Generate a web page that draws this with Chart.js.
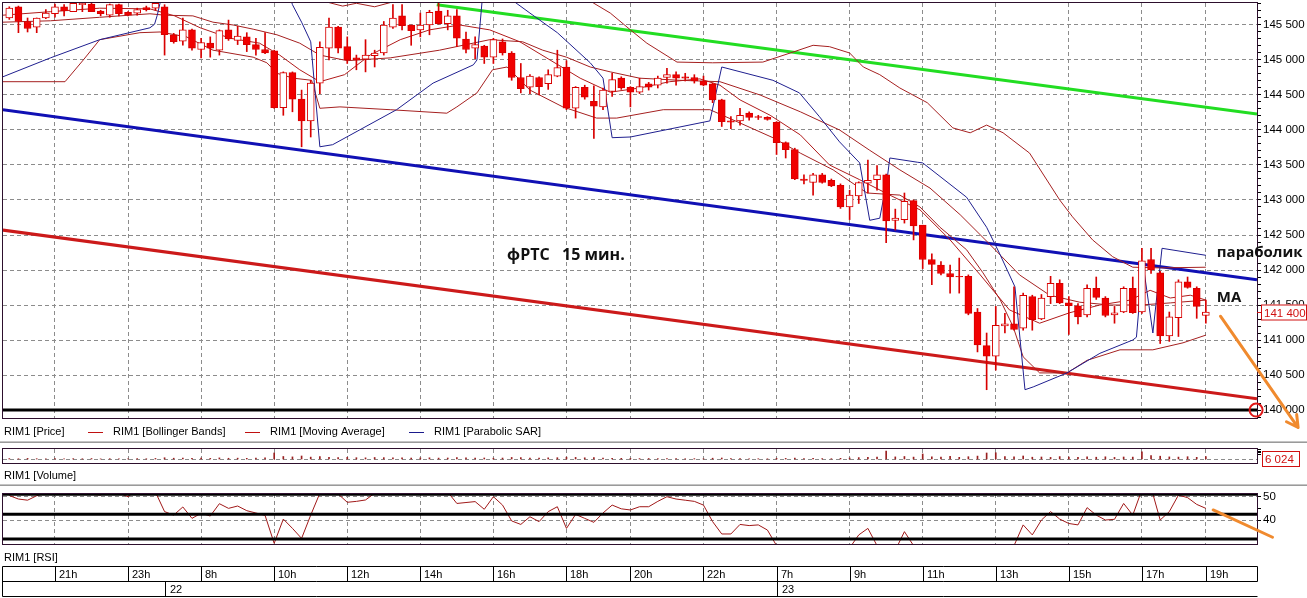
<!DOCTYPE html>
<html>
<head>
<meta charset="utf-8">
<script src="https://cdn.jsdelivr.net/npm/chart.js@4.4.1/dist/chart.umd.min.js"></script>
<style>
  html, body { margin: 0; padding: 0; background: #fff; width: 1307px; height: 598px; overflow: hidden; }
  canvas { position: absolute; left: 0; }
  .sep { position: absolute; left: 0; width: 1307px; height: 1px; background: #c4c4c4; border-bottom: 1px solid #9a9a9a; }
</style>
</head>
<body>
<canvas id="priceChart" width="1307" height="441" style="top:0"></canvas>
<div class="sep" style="top:441px"></div>
<canvas id="volumeChart" width="1307" height="41" style="top:443px"></canvas>
<div class="sep" style="top:484px"></div>
<canvas id="rsiChart" width="1307" height="112" style="top:486px"></canvas>
<script>
// RIM1, 15 min bars, index 0 = first bar on screen (21st, evening)
const candleOpen = [
  145600,145760,145550,145470,145600,145660,145760,145690,145790,145800,145700,145640,145790,145680,145670,145750,145740,
  145760,145360,145270,145430,145150,145240,145140,145430,145280,145330,145220,145150,
  145130,144320,144820,144440,144130,144670,145170,145470,145190,145030,145010,145060,145100,145470,145630,145500,
  145430,145500,145700,145520,145630,145300,145170,145200,145040,145260,145100,144750,144610,144750,144660,144770,
  144900,144310,144610,144410,144330,144550,144740,144610,144540,144660,144640,144750,144790,144760,144750,144700,
  144660,144430,144130,144130,144240,144190,144180,
  144110,143820,143720,143300,143250,143360,143280,143210,142900,143060,143240,143290,143360,142710,142720,142990,
  142640,142150,142070,141950,141910,141910,141400,140920,140770,141200,141230,141170,141620,141300,141620,141810,
  141530,141490,141360,141740,141600,141360,141400,141740,141400,142150,141960,141060,141320,141830,141740,141350
];
const candleHigh = [
  145760,145770,145600,145600,145720,145800,145790,145810,145820,145810,145710,145800,145800,145690,145740,145770,145830,
  145790,145380,145600,145440,145310,145330,145430,145570,145480,145390,145310,145390,
  145140,144830,144830,144570,144710,145260,145600,145480,145330,145070,145290,145140,145550,145790,145790,145500,
  145670,145710,145820,145710,145720,145400,145330,145210,145310,145300,145120,144950,144790,144760,144860,145140,
  144990,144620,144640,144630,144600,144810,144760,144620,144740,144680,144770,144880,144830,144810,144790,144770,
  144670,144440,144190,144310,144260,144210,144190,
  144120,143830,143740,143360,143380,143380,143300,143230,143140,143260,143570,143490,143370,142870,143100,143000,
  142640,142230,142120,142070,142170,141930,141450,141100,141480,141380,141760,141670,141640,141650,141910,141860,
  141620,141520,141790,141900,141620,141480,141760,141900,142310,142310,141980,141400,141860,141900,141760,141570
];
const candleLow = [
  145580,145390,145400,145390,145590,145610,145630,145690,145690,145690,145630,145610,145630,145630,145640,145700,145710,
  145070,145240,145210,145140,145030,145040,145070,145280,145220,145120,145070,145090,
  144310,144210,144260,143760,143900,144520,145000,145100,144950,144860,144830,144900,145070,145450,145430,145210,
  145330,145360,145510,145430,145190,145100,145020,144950,144950,145070,144710,144530,144520,144500,144580,144760,
  144290,144170,144440,143880,144290,144480,144580,144330,144520,144570,144600,144670,144640,144700,144670,144630,
  144390,144050,144020,144070,144140,144150,144140,
  143650,143600,143290,143230,143070,143240,143190,142880,142720,142950,143100,143140,142390,142570,142670,142430,
  142020,141790,141930,141670,141670,141360,140830,140290,140570,141100,141140,141140,141140,141290,141520,141520,
  141080,141230,141330,141580,141330,141240,141390,141380,141380,141950,140950,140980,141050,141740,141310,141240
];
const candleClose = [
  145740,145550,145450,145600,145670,145760,145700,145810,145810,145690,145660,145790,145660,145640,145720,145720,145810,
  145360,145260,145430,145170,145250,145170,145420,145300,145340,145220,145150,145100,
  144320,144820,144440,144130,144670,145180,145470,145170,145000,145000,145070,145100,145500,145600,145490,145420,
  145500,145680,145520,145630,145310,145150,145220,145040,145290,145100,144750,144590,144770,144620,144790,144890,
  144310,144610,144470,144340,144570,144720,144600,144540,144620,144610,144740,144790,144740,144740,144700,144640,
  144430,144120,144110,144210,144180,144180,144150,
  143820,143720,143300,143280,143360,143250,143200,142900,143070,143250,143280,143360,142700,142740,142980,142630,
  142150,142080,141950,141900,141900,141380,140930,140770,141210,141230,141150,141640,141290,141600,141810,141530,
  141490,141330,141740,141610,141350,141390,141740,141390,142130,142000,141060,141330,141830,141750,141480,141400
];
const candleVolume = [
  1800,1500,2200,1600,1400,2000,1300,1700,1500,1900,1200,1600,1400,1300,1800,1500,2100,
  3500,2600,3000,2400,2800,2200,3200,2500,2700,2300,2600,3100,
  13000,6000,5200,7000,4800,5600,4200,3800,4400,3600,3300,4000,3700,3100,3500,2900,3200,
  3400,2800,3000,3600,3300,2700,3000,2600,2900,4100,3800,3000,2800,3300,3600,4600,4200,3400,3900,
  3000,2500,2300,2200,1800,2000,1700,1900,1600,1500,1700,1400,2600,3000,1800,1600,1300,1500,1400,
  2500,2200,2800,1900,2100,1800,1600,2400,
  3000,3800,4200,4600,17000,5200,6000,4800,11000,5400,5000,6200,4400,5600,6800,13000,13500,6000,5400,7000,
  4600,5000,4200,5800,4800,4400,5200,4600,5400,4200,5000,4800,15500,7800,6600,5200,4800,5600,4400,6024
];
const rsiValues = [
  50.5,49,48.5,50.4,51.5,53,54,55,54,51,50.7,53,51.5,50,53,55,52,
  43.6,42.1,45.6,40.7,42.9,41.7,47,45,46,44,43,42,
  30,40.4,36.4,32.1,42.1,51.5,54,51.2,47.6,48,48.6,51.5,55,58,57,55,56,
  58,57,52,47.1,47.5,47.9,44.6,50,46.4,39.6,38.1,41.4,39.3,43.6,45.7,36.4,42.4,40.7,39,
  43,46.4,44.8,44.3,45.7,45.7,48,50,49,48.5,48,46.4,39.3,34,34,38.1,37.6,37.9,35.7,
  29,26,24,25,26,27,27,27,28,33.6,36.4,29,24,27,35,29,
  25,24,25,24,23,22,20,19,24,26,29,37.9,33.6,40,43.6,40.4,
  38.5,37.9,45.3,42.1,40,40.3,47.1,42.1,53,54,40,43.6,50.7,49.6,46.7,45
];

// indicator traces [bar index, price]
const bbUpper = [[-0.7,146300],[30,146300],[33,145930],[35,145820],[36.5,145770],[38,145810],[40,145760],[42,145830],[45,146000],[52,146150],[60,146050],[63,145900],[64,145810],[65.8,145670],[68,145430],[69.8,145240],[73.1,144970],[77,144960],[82.5,144970],[85.5,145100],[88,145210],[89.8,145190],[92,145100],[93.5,144900],[95.3,144790],[97.5,144600],[100.5,144390],[103.3,144030],[105.2,143960],[107,144070],[108.8,143960],[111.7,143670],[115,143000],[116.4,142760],[118.6,142430],[120.8,142190],[123,142040],[126,142030],[131,142040]];
const bbMiddle = [[-0.7,145540],[4.5,145560],[9.9,145610],[15.4,145660],[17,145640],[20.1,145630],[22.3,145540],[24.5,145500],[26.7,145440],[29.3,145360],[31.8,145240],[34,145070],[37,144990],[41.7,145030],[47.1,145140],[52.6,145290],[56.2,145260],[58.4,145140],[61,145040],[63.6,144900],[65.8,144830],[69,144740],[73.4,144710],[77.8,144690],[82.2,144500],[86.6,144260],[90.9,144000],[94.2,143710],[97.5,143430],[100.8,143170],[104.1,142790],[107.4,142360],[110.6,141930],[113.9,141640],[117.2,141540],[120.5,141500],[123.8,141500],[127.1,141530],[131,141570]];
const bbLower = [[-0.7,144690],[6.1,144690],[8.1,145000],[9.9,145290],[14.3,145390],[16.5,145400],[19.4,145330],[22.3,145140],[26.7,145040],[28.2,144960],[29.3,144810],[31.1,144740],[33.1,144710],[34,144310],[36.2,144330],[41.7,144290],[47.9,144240],[49,144330],[51.2,144530],[52.9,144860],[54.5,144900],[57,144570],[60.6,144330],[64.3,144170],[66.5,144170],[71.6,144290],[76.7,144290],[80,144100],[83.6,143890],[86.6,143670],[90.2,143430],[93.9,143100],[97.5,143070],[99.7,142900],[101.9,142610],[104.8,142290],[106.6,141960],[108.5,141570],[109.9,141190],[111,140760],[112.8,140530],[115.8,140530],[118,140710],[121.6,140860],[125.2,140860],[128.5,140960],[131,141070]];
const maLine = [[-0.7,145640],[4.5,145690],[9.9,145740],[15.4,145730],[18.1,145630],[20.9,145460],[24.2,145310],[27.4,145240],[29.6,145070],[31.8,144860],[34,144690],[36.7,144790],[39.5,145070],[42.8,145290],[46,145430],[49.3,145500],[52.6,145430],[55.9,145260],[59.2,145000],[62.5,144740],[65.8,144540],[69,144600],[72.3,144690],[75.6,144730],[77.8,144640],[80,144430],[83.3,144210],[86.6,143930],[89.8,143500],[93.1,143290],[96.4,143070],[99.7,142860],[103,142430],[106.3,141930],[109.5,141430],[112.8,141240],[116.1,141390],[119.4,141500],[122.7,141570],[124.9,141710],[127.1,141600],[129.3,141640],[131,141570]];
const sarLine = [[-0.7,144760],[4.5,145030],[9.9,145290],[15.4,145460],[15.9,145510],[16.2,145640],[16.5,145810],[17,146200],[30,146200],[31,145790],[32,145540],[33,145260],[34,143760],[35.4,143790],[42.4,144290],[46.4,144670],[50.8,144930],[51.2,145000],[52,146200],[55,145860],[57,145670],[60,145390],[63.6,144960],[65,144740],[66,143890],[68,143900],[76.7,144130],[78,144900],[83.6,144710],[86.5,144530],[88.7,144190],[90.9,143830],[93.1,143530],[94.2,142710],[95.3,142740],[96.1,143290],[96.4,143600],[99.4,143540],[100,143530],[104.8,143040],[107,142610],[108.4,142240],[110.1,141760],[111.2,140290],[112.1,140330],[115.8,140530],[119.4,140810],[123,141000],[123.4,141040],[124.1,142110],[125.2,141100],[126.2,142310],[131,142210]];

// hand-drawn lines
const trendGreen = [[46.8,145790],[136.6,144230]];
const trendBlue = [[-0.7,144290],[136.6,141860]];
const trendRed = [[-0.7,142570],[136.6,140160]];
const supportLevel = 140000;
const rsiLevels = [51.0, 42.45, 31.85];

// axes
const priceTicks = [140000,140500,141000,141500,142000,142500,143000,143500,144000,144500,145000,145500];
const rsiTicks = [35,40,45,50];
const rsiLabelled = [40,50];
const gridBars = [5,13,21,29,37,45,53,61,68,76,84,92,100,108,116,124,131];
const hourLabels = ['21h','23h','8h','10h','12h','14h','16h','18h','20h','22h','7h','9h','11h','13h','15h','17h','19h'];
const dateBars = [17,84];
const dateLabels = ['22','23'];

const xMin = -0.69, xMax = 136.6;
const UI_FONT = '11px "Liberation Sans", Arial, sans-serif';
const AXIS_FONT = { family: '"Liberation Sans", Arial, sans-serif', size: 11.5 };
const NOTE_FONT = 'bold 15px "Open Sans", "Noto Sans", sans-serif';
const GRID = '#8c8c8c';
const FRAME = '#2d0f2d';
const DASH = [4, 3];
const CLEAR = 'rgba(0,0,0,0)';
const ORANGE = '#f08a2e';

function pts(arr) { return arr.map(([x, y]) => ({ x, y })); }
function spaced(v) { return String(v).replace(/\B(?=(\d{3})+(?!\d))/g, ' '); }

function line(color, width, arr, order) {
    return { type: 'line', data: pts(arr), borderColor: color, borderWidth: width,
             pointRadius: 0, tension: 0, fill: false, order: order };
}

function xScale() {
    return {
        type: 'linear', min: xMin, max: xMax, offset: false,
        afterBuildTicks: s => { s.ticks = gridBars.map(v => ({ value: v })); },
        afterFit: s => { s.height = 0; },
        ticks: { display: false },
        grid: { color: GRID, drawTicks: false, offset: false },
        border: { display: false, dash: DASH }
    };
}

function frame(ctx, a) {
    ctx.strokeStyle = FRAME;
    ctx.lineWidth = 1;
    ctx.strokeRect(a.left - 0.5, a.top - 0.5, a.right - a.left + 1, a.bottom - a.top + 1);
}

function arrow(ctx, x0, y0, x1, y1) {
    ctx.beginPath();
    ctx.moveTo(x0, y0);
    ctx.lineTo(x1, y1);
    const ang = Math.atan2(y1 - y0, x1 - x0);
    for (const d of [-0.5, 0.5]) {
        ctx.moveTo(x1, y1);
        ctx.lineTo(x1 - 13 * Math.cos(ang + d), y1 - 13 * Math.sin(ang + d));
    }
    ctx.stroke();
}

const basePlugins = { legend: { display: false }, tooltip: { enabled: false } };

// ---------- price panel ----------
const pricePanel = {
    id: 'pricePanel',
    afterDraw(chart) {
        const { ctx, chartArea: a, scales: { x, y } } = chart;
        ctx.save();
        frame(ctx, a);

        // legend row
        ctx.font = UI_FONT;
        ctx.textBaseline = 'middle';
        ctx.fillStyle = '#000';
        const ly = 432;
        ctx.fillText('RIM1 [Price]', 4, ly);
        const items = [[88, '#c01010', 'RIM1 [Bollinger Bands]'], [245, '#c01010', 'RIM1 [Moving Average]'], [409, '#1a1a8c', 'RIM1 [Parabolic SAR]']];
        items.forEach(([lx, col, txt]) => {
            ctx.strokeStyle = col;
            ctx.beginPath(); ctx.moveTo(lx, ly + 0.5); ctx.lineTo(lx + 15, ly + 0.5); ctx.stroke();
            ctx.fillStyle = '#000';
            ctx.fillText(txt, lx + 25, ly);
        });

        // last price box
        const last = candleClose[candleClose.length - 1];
        const py = Math.round(y.getPixelForValue(last)) + 0.5;
        ctx.fillStyle = '#fff';
        ctx.fillRect(a.right + 4, py - 8, 46, 16);
        ctx.strokeStyle = '#d01010';
        ctx.strokeRect(a.right + 4.5, py - 7.5, 45, 15);
        ctx.beginPath(); ctx.moveTo(a.right, py); ctx.lineTo(a.right + 4, py); ctx.stroke();
        ctx.fillStyle = '#d01010';
        ctx.font = '11.5px "Liberation Sans", Arial, sans-serif';
        ctx.fillText(spaced(last), a.right + 7, py + 1);

        // notes
        ctx.fillStyle = '#111';
        ctx.font = 'bold 16px "Open Sans", "Noto Sans", sans-serif';
        ctx.fillText('фРТС   15 мин.', x.getPixelForValue(54.5), y.getPixelForValue(142210));
        ctx.font = NOTE_FONT;
        ctx.fillText('параболик', x.getPixelForValue(132.2), y.getPixelForValue(142240));
        ctx.fillText('MA', x.getPixelForValue(132.2), y.getPixelForValue(141610));

        // red circle on the 140 000 level
        ctx.strokeStyle = '#e01818';
        ctx.lineWidth = 2;
        ctx.beginPath();
        ctx.arc(x.getPixelForValue(136.5), y.getPixelForValue(supportLevel), 6.5, 0, Math.PI * 2);
        ctx.stroke();

        // orange arrow
        ctx.strokeStyle = ORANGE;
        ctx.lineWidth = 3;
        ctx.lineCap = 'round';
        arrow(ctx, x.getPixelForValue(132.6), y.getPixelForValue(141340), x.getPixelForValue(141.1), y.getPixelForValue(139750));
        ctx.restore();
    }
};

const candleUp = candleOpen.map((o, i) => candleClose[i] >= o);

new Chart(document.getElementById('priceChart'), {
    type: 'bar',
    data: {
        datasets: [
            {
                type: 'bar', order: 1, grouped: false, barThickness: 7,
                data: candleOpen.map((o, i) => ({ x: i, y: [o, candleClose[i]] })),
                backgroundColor: candleUp.map(u => u ? '#ffffff' : '#f00000'),
                borderColor: '#d80000', borderWidth: 1, borderSkipped: false
            },
            {
                type: 'bar', order: 2, grouped: false, barThickness: 1,
                data: candleLow.map((l, i) => ({ x: i, y: [l, candleHigh[i]] })),
                backgroundColor: '#d80000', borderWidth: 0
            },
            line('#1f1f8f', 1, sarLine, 3),
            line('#b01a1a', 1, maLine, 4),
            line('#a52020', 1, bbUpper, 5),
            line('#a52020', 1, bbMiddle, 5),
            line('#a52020', 1, bbLower, 5),
            line('#22dd22', 3, trendGreen, 6),
            line('#1010b4', 3, trendBlue, 6),
            line('#cc1a1a', 3, trendRed, 6),
            line('#000000', 3, [[xMin, supportLevel], [xMax, supportLevel]], 7)
        ]
    },
    options: {
        responsive: false, animation: false, events: [],
        layout: { padding: { left: 3, top: 3, right: 0, bottom: 23 } },
        plugins: basePlugins,
        scales: {
            x: xScale(),
            y: {
                position: 'right', min: 139886, max: 145814, beginAtZero: false,
                afterBuildTicks: s => {
                    const t = [];
                    for (let v = 139900; v <= 145800; v += 100) t.push({ value: v });
                    s.ticks = t;
                },
                afterFit: s => { s.width = 50; s.paddingTop = 0; s.paddingBottom = 0; },
                grid: { color: c => priceTicks.includes(c.tick.value) ? GRID : CLEAR, tickColor: '#000', tickLength: 4 },
                border: { display: false, dash: DASH },
                ticks: { autoSkip: false, padding: 2, color: '#000', font: AXIS_FONT,
                         callback: v => priceTicks.includes(v) ? spaced(v) : '' }
            }
        }
    },
    plugins: [pricePanel]
});

// ---------- volume panel ----------
const volumePanel = {
    id: 'volumePanel',
    afterDraw(chart) {
        const { ctx, chartArea: a } = chart;
        ctx.save();
        frame(ctx, a);
        const last = candleVolume[candleVolume.length - 1];
        ctx.fillStyle = '#fff';
        ctx.fillRect(a.right + 5, a.top + 2, 38, 16);
        ctx.strokeStyle = '#d01010';
        ctx.strokeRect(a.right + 5.5, a.top + 2.5, 37, 15);
        ctx.fillStyle = '#d01010';
        ctx.font = '11.5px "Liberation Sans", Arial, sans-serif';
        ctx.textBaseline = 'middle';
        ctx.fillText(spaced(last), a.right + 8, a.top + 11);
        ctx.fillStyle = '#000';
        ctx.font = UI_FONT;
        ctx.fillText('RIM1 [Volume]', 4, 33);
        ctx.restore();
    }
};

new Chart(document.getElementById('volumeChart'), {
    type: 'bar',
    data: {
        datasets: [{
            data: candleVolume.map((v, i) => ({ x: i, y: v })),
            backgroundColor: '#9a2020', borderWidth: 0, barThickness: 1
        }]
    },
    options: {
        responsive: false, animation: false, events: [],
        layout: { padding: { left: 3, top: 6, right: 0, bottom: 21 } },
        plugins: basePlugins,
        scales: {
            x: xScale(),
            y: {
                position: 'right', min: -7000, max: 21000, beginAtZero: false,
                afterBuildTicks: s => { s.ticks = [0, 11000, 14000, 17000, 20000].map(v => ({ value: v })); },
                afterFit: s => { s.width = 50; s.paddingTop = 0; s.paddingBottom = 0; },
                grid: { color: c => c.tick.value === 0 ? GRID : CLEAR,
                        tickColor: c => c.tick.value === 0 ? CLEAR : '#000', tickLength: 4 },
                border: { display: false, dash: DASH },
                ticks: { autoSkip: false, padding: 0, callback: () => '' }
            }
        }
    },
    plugins: [volumePanel]
});

// ---------- RSI panel + time axis ----------
const rsiPanel = {
    id: 'rsiPanel',
    afterDraw(chart) {
        const { ctx, chartArea: a, scales: { x, y } } = chart;
        ctx.save();
        frame(ctx, a);

        ctx.strokeStyle = ORANGE;
        ctx.lineWidth = 3;
        ctx.lineCap = 'round';
        ctx.beginPath();
        ctx.moveTo(x.getPixelForValue(131.8), y.getPixelForValue(44.3));
        ctx.lineTo(x.getPixelForValue(138.3), y.getPixelForValue(32.6));
        ctx.stroke();

        ctx.fillStyle = '#000';
        ctx.font = UI_FONT;
        ctx.textBaseline = 'middle';
        ctx.fillText('RIM1 [RSI]', 4, 72);

        // time scale box
        const top = 80.5, mid = 95.5, bot = 110.5;
        const left = a.left - 0.5, right = a.right + 0.5;
        ctx.strokeStyle = '#000';
        ctx.lineWidth = 1;
        ctx.lineCap = 'butt';
        ctx.beginPath();
        ctx.moveTo(left, top); ctx.lineTo(right, top);
        ctx.moveTo(left, mid); ctx.lineTo(right, mid);
        ctx.moveTo(left, bot); ctx.lineTo(right, bot);
        ctx.moveTo(left, top); ctx.lineTo(left, bot);
        ctx.moveTo(right, top); ctx.lineTo(right, mid);
        gridBars.forEach(b => {
            const px = Math.round(x.getPixelForValue(b)) + 0.5;
            ctx.moveTo(px, top); ctx.lineTo(px, mid);
        });
        dateBars.forEach(b => {
            const px = Math.round(x.getPixelForValue(b)) + 0.5;
            ctx.moveTo(px, mid); ctx.lineTo(px, bot);
        });
        ctx.stroke();
        gridBars.forEach((b, k) => ctx.fillText(hourLabels[k], Math.round(x.getPixelForValue(b)) + 4, (top + mid) / 2 + 1));
        dateBars.forEach((b, k) => ctx.fillText(dateLabels[k], Math.round(x.getPixelForValue(b)) + 5, (mid + bot) / 2 + 1));
        ctx.restore();
    }
};

new Chart(document.getElementById('rsiChart'), {
    type: 'line',
    data: {
        datasets: [
            { data: rsiValues.map((v, i) => ({ x: i, y: v })), borderColor: '#a01818', borderWidth: 1,
              pointRadius: 0, tension: 0, order: 2 },
            ...rsiLevels.map(v => line('#000000', 3, [[xMin, v], [xMax, v]], 1))
        ]
    },
    options: {
        responsive: false, animation: false, events: [],
        layout: { padding: { left: 3, top: 8, right: 0, bottom: 54 } },
        plugins: basePlugins,
        scales: {
            x: xScale(),
            y: {
                position: 'right', min: 29.7, max: 51.16,
                afterBuildTicks: s => { s.ticks = rsiTicks.map(v => ({ value: v })); },
                afterFit: s => { s.width = 50; s.paddingTop = 0; s.paddingBottom = 0; },
                grid: { color: c => rsiLabelled.includes(c.tick.value) ? GRID : CLEAR, tickColor: '#000', tickLength: 4 },
                border: { display: false, dash: DASH },
                ticks: { autoSkip: false, padding: 2, color: '#000', font: AXIS_FONT,
                         callback: v => rsiLabelled.includes(v) ? String(v) : '' }
            }
        }
    },
    plugins: [rsiPanel]
});
</script>
</body>
</html>
